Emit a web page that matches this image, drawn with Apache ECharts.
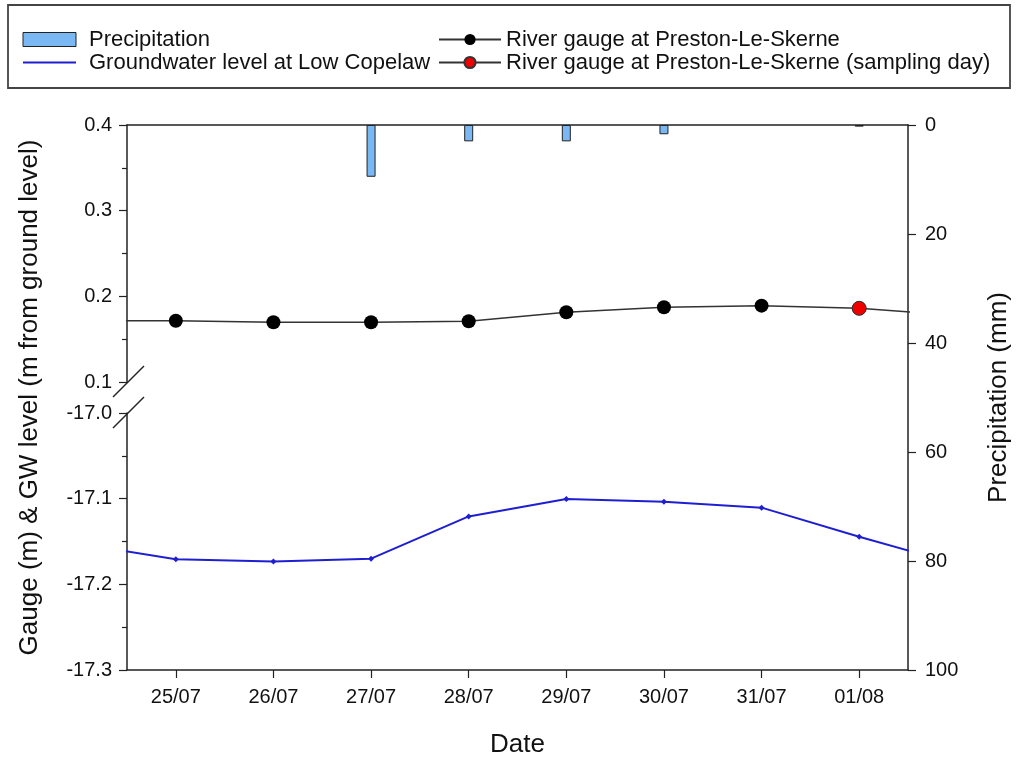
<!DOCTYPE html>
<html>
<head>
<meta charset="utf-8">
<script src="https://cdn.jsdelivr.net/npm/echarts@6/dist/echarts.min.js"></script>
<style>
html,body{margin:0;padding:0;background:#fff;}
#chart{width:1018px;height:760px;}
</style>
</head>
<body>
<div id="chart"></div>
<script>
// Category labels (dates on the x axis)
const dates = ['25/07', '26/07', '27/07', '28/07', '29/07', '30/07', '31/07', '01/08'];
// Daily precipitation (mm), one per date
const precipitation = [0, 0, 9.5, 3.0, 3.0, 1.7, 0, 0.3];
// Day index of each line reading: -1 = 24/07 and 8 = 02/08 lie outside the plot (lines run to the frame edges)
const dayIndex = [-1, 0, 1, 2, 3, 4, 5, 6, 7, 8];
// River gauge at Preston-Le-Skerne (m)
const gauge = [0.1715, 0.1715, 0.1697, 0.1697, 0.1709, 0.1814, 0.1872, 0.1891, 0.1860, 0.1780];
// Groundwater level at Low Copelaw (m from ground level)
const gw = [-17.1526, -17.1706, -17.1733, -17.1700, -17.1207, -17.1004, -17.1035, -17.1105, -17.1444, -17.1764];
// Sampling day (index into dayIndex)
const samplingIdx = 8;
// Tick settings
const gaugeTicks = {min: 0.1, max: 0.4, interval: 0.1};
const gwTicks = {min: -17.3, max: -17.0, interval: 0.1};
const precipTicks = {min: 0, max: 100, interval: 20};

const FONT = 'Liberation Sans, Arial, sans-serif';
const TICK_FS = 20, LEGEND_FS = 22, TITLE_FS = 26;
const axisLine = {show: true, onZero: false, lineStyle: {color: '#222', width: 1.5}};
const tickStyle = {color: '#222', width: 1.2};
const tickLabel = (extra) => Object.assign({fontSize: TICK_FS, color: '#111', fontFamily: FONT}, extra);

const chart = echarts.init(document.getElementById('chart'), null, {renderer: 'canvas'});
const option = {
  animation: false,
  backgroundColor: '#fff',
  textStyle: {fontFamily: FONT, color: '#111'},
  legend: [
    {
      left: 22, top: 28, padding: 0, orient: 'vertical', itemWidth: 53, itemHeight: 14, itemGap: 0,
      textStyle: {fontSize: LEGEND_FS, lineHeight: 23, color: '#111', fontFamily: FONT, padding: [0, 0, 0, 8]},
      data: [
        {name: 'Precipitation', icon: 'rect', itemStyle: {borderColor: '#222', borderWidth: 1}},
        {name: 'Groundwater level at Low Copelaw', itemStyle: {opacity: 0}}
      ]
    },
    {
      left: 438, top: 28, padding: 0, orient: 'vertical', itemWidth: 62, itemHeight: 14, itemGap: 0,
      textStyle: {fontSize: LEGEND_FS, lineHeight: 23, color: '#111', fontFamily: FONT, padding: [0, 0, 0, 0]},
      data: ['River gauge at Preston-Le-Skerne', 'River gauge at Preston-Le-Skerne (sampling day)']
    }
  ],
  grid: [
    {left: 127, right: 110, top: 125, height: 257, outerBoundsMode: 'none', containLabel: false},
    {left: 127, right: 110, top: 413, height: 257, outerBoundsMode: 'none', containLabel: false},
    {left: 127, right: 110, top: 125, height: 545, outerBoundsMode: 'none', containLabel: false}
  ],
  xAxis: [
    {gridIndex: 0, type: 'value', min: -0.5, max: 7.5, position: 'top',
     axisLine: axisLine, axisTick: {show: false}, axisLabel: {show: false}, splitLine: {show: false}},
    {gridIndex: 1, type: 'value', min: -0.5, max: 7.5, show: false},
    {gridIndex: 2, type: 'category', data: dates, boundaryGap: true, position: 'bottom',
     axisLine: axisLine,
     axisTick: {show: true, alignWithLabel: true, length: 8, lineStyle: tickStyle},
     axisLabel: tickLabel({interval: 0, margin: 17}),
     splitLine: {show: false},
     name: 'Date', nameLocation: 'middle', nameGap: 62,
     nameTextStyle: {fontSize: TITLE_FS, color: '#111', fontFamily: FONT}}
  ],
  yAxis: [
    {gridIndex: 0, type: 'value', min: gaugeTicks.min, max: gaugeTicks.max, interval: gaugeTicks.interval,
     position: 'left', axisLine: axisLine,
     axisTick: {show: true, length: 8, lineStyle: tickStyle},
     minorTick: {show: true, splitNumber: 2, length: 5, lineStyle: tickStyle},
     axisLabel: tickLabel({formatter: v => v.toFixed(1), margin: 15}),
     splitLine: {show: false}},
    {gridIndex: 1, type: 'value', min: gwTicks.min, max: gwTicks.max, interval: gwTicks.interval,
     position: 'left', axisLine: axisLine,
     axisTick: {show: true, length: 8, lineStyle: tickStyle},
     minorTick: {show: true, splitNumber: 2, length: 5, lineStyle: tickStyle},
     axisLabel: tickLabel({formatter: v => v.toFixed(1), margin: 15}),
     splitLine: {show: false}},
    {gridIndex: 2, type: 'value', min: precipTicks.min, max: precipTicks.max, interval: precipTicks.interval,
     inverse: true, position: 'right', axisLine: axisLine,
     axisTick: {show: true, length: 8, lineStyle: tickStyle},
     axisLabel: tickLabel({margin: 17}),
     splitLine: {show: false},
     name: 'Precipitation (mm)', nameLocation: 'middle', nameGap: 78, nameRotate: 90,
     nameTextStyle: {fontSize: TITLE_FS, color: '#111', fontFamily: FONT}},
    {gridIndex: 2, type: 'value', min: 0, max: 1, position: 'left',
     axisLine: {show: false}, axisTick: {show: false}, axisLabel: {show: false}, splitLine: {show: false},
     name: 'Gauge (m) & GW level (m from ground level)', nameLocation: 'middle', nameGap: 84, nameRotate: 90,
     nameTextStyle: {fontSize: TITLE_FS, color: '#111', fontFamily: FONT}}
  ],
  series: [
    {name: 'Precipitation', type: 'bar', xAxisIndex: 2, yAxisIndex: 2,
     data: precipitation.map(v => (v === 0 ? '-' : v)),
     barWidth: 9, itemStyle: {color: '#7ab8f4', borderColor: '#222', borderWidth: 1}, z: 1},
    {name: 'Groundwater level at Low Copelaw', type: 'line', xAxisIndex: 1, yAxisIndex: 1,
     data: dayIndex.map((d, i) => [d, gw[i]]), clip: true,
     symbol: 'diamond', symbolSize: 6, itemStyle: {color: '#1f1fd2'},
     lineStyle: {color: '#1f1fd2', width: 2}, z: 3},
    {name: 'River gauge at Preston-Le-Skerne', type: 'line', xAxisIndex: 0, yAxisIndex: 0,
     data: dayIndex.map((d, i) => [d, gauge[i]]), clip: true,
     symbol: 'circle', symbolSize: 14, itemStyle: {color: '#000'},
     lineStyle: {color: '#333', width: 1.5}, z: 3},
    {name: 'River gauge at Preston-Le-Skerne (sampling day)', type: 'line', xAxisIndex: 0, yAxisIndex: 0,
     data: [[dayIndex[samplingIdx], gauge[samplingIdx]]],
     symbol: 'circle', symbolSize: 14, itemStyle: {color: '#ee0000', borderColor: '#333', borderWidth: 1},
     lineStyle: {color: '#333', width: 1.5}, z: 4}
  ],
  graphic: [
    {type: 'rect', shape: {x: 8, y: 5, width: 1002, height: 83},
     style: {fill: 'none', stroke: '#444', lineWidth: 1.8}, z: 10},
    {type: 'line', shape: {x1: 113, y1: 397, x2: 144, y2: 366},
     style: {stroke: '#222', lineWidth: 1.5}, z: 10},
    {type: 'line', shape: {x1: 113, y1: 428, x2: 144, y2: 397},
     style: {stroke: '#222', lineWidth: 1.5}, z: 10}
  ]
};
chart.setOption(option);
</script>
</body>
</html>
